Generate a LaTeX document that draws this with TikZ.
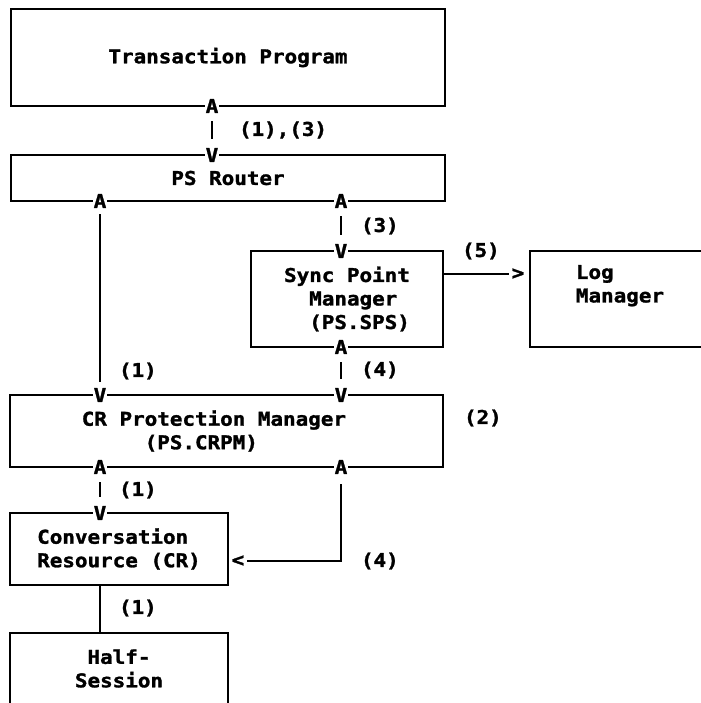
\documentclass[tikz,border=0pt]{standalone}
\usepackage{fontspec}
\newfontfamily\ibmfont[FakeStretch=1.1, BoldFeatures={FakeBold=1.5}]{DejaVu Sans Mono}

\begin{document}
\begin{tikzpicture}[x=0.5pt, y=-0.5pt, line width=1pt,
    every node/.style={font=\ibmfont\bfseries\fontsize{9.5}{11.75}\selectfont},
    box/.style={draw, inner sep=0pt, align=left},
    tip/.style={fill=white, inner sep=0.6pt},
    lbl/.style={anchor=west, inner sep=0pt},
    bar/.style={shorten <=3pt, shorten >=3.5pt}]
    \useasboundingbox (0,0) rectangle (701,703);

    % --- Boxes ---
    \node[box, minimum width=217pt, minimum height=48.5pt] (tp) at (228,57.5) {Transaction Program};
    \node[box, minimum width=217pt, minimum height=23pt] (rt) at (228,178) {PS Router};
    \node[box, minimum width=96pt, minimum height=48pt] (sps) at (347,299)
        {Sync Point\\\hphantom{Sy}Manager\\\hphantom{Sy}(PS.SPS)};
    \node[box, minimum width=90pt, minimum height=48pt] (log) at (620,299) {Log\\Manager\\\strut};
    \node[box, minimum width=216.5pt, minimum height=36pt] (crpm) at (226.5,431)
        {CR Protection Manager\hphantom{xx}\\\hphantom{xxxxx}(PS.CRPM)};
    \node[box, minimum width=109pt, minimum height=36pt] (conv) at (119,549) {Conversation\\Resource (CR)};
    \node[box, minimum width=109pt, minimum height=35.5pt] (hs) at (119,668.5) {\hphantom{x}Half-\\Session};

    % --- A/V marks on the box edges ---
    \node[tip] (tpA) at (212,106) {A};
    \node[tip] (rtV) at (212,155) {V};
    \node[tip] (rtA1) at (100,201) {A};
    \node[tip] (rtA2) at (341,201) {A};
    \node[tip] (spsV) at (341,251) {V};
    \node[tip] (spsA) at (341,347) {A};
    \node[tip] (crV1) at (100,395) {V};
    \node[tip] (crV2) at (341,395) {V};
    \node[tip] (crA1) at (100,467) {A};
    \node[tip] (crA2) at (341,467) {A};
    \node[tip] (convV) at (100,513) {V};
    \node[inner sep=0pt] (gt) at (518,274) {>};
    \node[inner sep=0pt] (lt) at (238,561) {<};

    % --- Flows ---
    \draw[bar] (tpA) -- (rtV);
    \draw[bar] (rtA2) -- (spsV);
    \draw[bar] (spsA) -- (crV2);
    \draw[bar] (crA1) -- (convV);
    \draw[shorten <=2pt, shorten >=2pt] (rtA1) -- (crV1);
    \draw[shorten >=1pt] (sps.east |- gt) -- (gt);
    \draw[shorten <=4pt, shorten >=1pt] (crA2) |- (lt);
    \draw (crA1 |- conv.south) -- (crA1 |- hs.north);

    % --- Flow numbers ---
    \node[lbl] at (238,130) {(1),(3)};
    \foreach \x/\y/\t in {360/226/3, 461/251/5, 360/370/4, 118/371/1,
                          463/418/2, 118/490/1, 360/561/4, 118/608/1}
        \node[lbl] at (\x,\y) {(\t)};
\end{tikzpicture}
\end{document}
